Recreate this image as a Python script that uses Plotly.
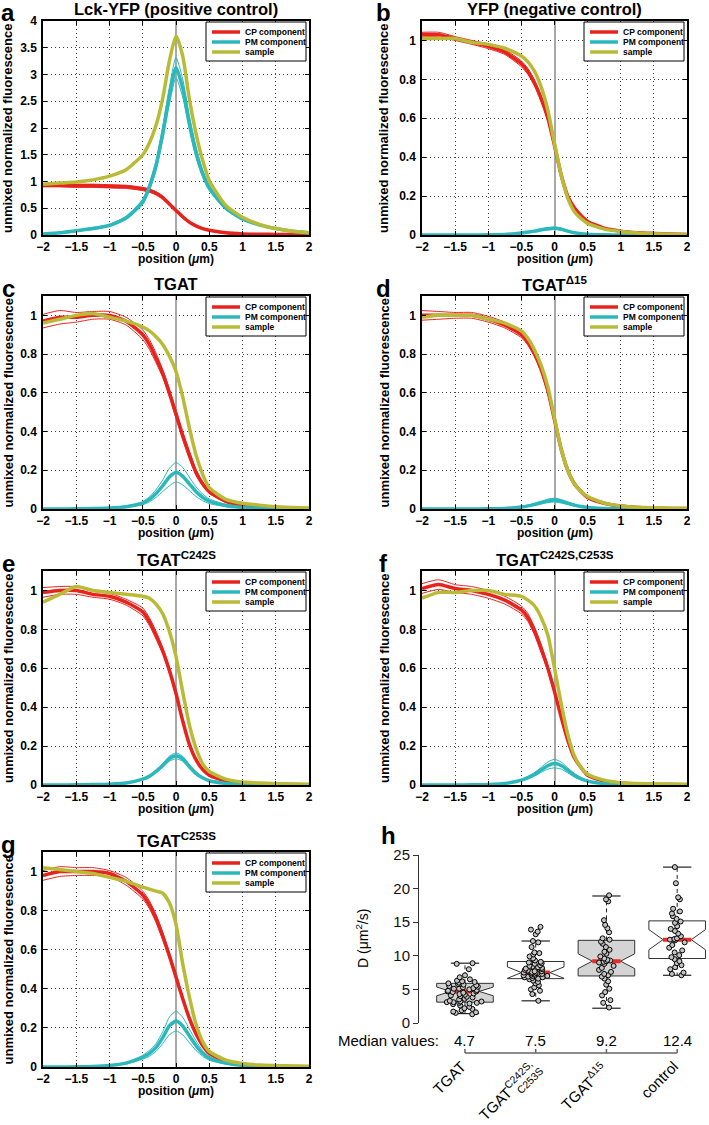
import plotly.graph_objects as go

# ---------------- data: line panels (position grid in µm) ----------------
X = [-2, -1.75, -1.5, -1.25, -1, -0.75, -0.5, -0.4, -0.3, -0.2, -0.1, 0,
     0.1, 0.2, 0.3, 0.4, 0.5, 0.75, 1, 1.25, 1.5, 1.75, 2]

# panel a: Lck-YFP
a_cp = [0.93, 0.93, 0.92, 0.92, 0.91, 0.90, 0.86, 0.83, 0.78, 0.70, 0.58, 0.46, 0.34, 0.24, 0.17, 0.12, 0.09, 0.04, 0.02, 0.015, 0.01, 0.008, 0.005]
a_cp_err = [0.03, 0.03, 0.03, 0.03, 0.03, 0.03, 0.03, 0.03, 0.03, 0.03, 0.025, 0.025, 0.02, 0.02, 0.015, 0.01, 0.01, 0.005, 0.003, 0.002, 0.002, 0.001, 0.001]
a_pm = [0.02, 0.04, 0.08, 0.12, 0.18, 0.32, 0.62, 0.9, 1.3, 1.9, 2.6, 3.13, 2.75, 2.1, 1.55, 1.15, 0.88, 0.5, 0.3, 0.19, 0.12, 0.07, 0.04]
a_pm_err = [0.005, 0.01, 0.01, 0.02, 0.02, 0.03, 0.05, 0.07, 0.09, 0.12, 0.16, 0.19, 0.17, 0.13, 0.1, 0.07, 0.05, 0.03, 0.02, 0.01, 0.01, 0.005, 0.005]
a_s = [0.95, 0.97, 0.99, 1.03, 1.1, 1.22, 1.5, 1.72, 2.05, 2.55, 3.25, 3.72, 3.35, 2.55, 1.9, 1.4, 1.02, 0.55, 0.33, 0.2, 0.12, 0.07, 0.04]

# panel b: YFP
b_cp = [1.03, 1.03, 1.01, 0.99, 0.97, 0.94, 0.88, 0.84, 0.78, 0.70, 0.60, 0.46, 0.31, 0.20, 0.14, 0.10, 0.07, 0.035, 0.02, 0.012, 0.008, 0.005, 0.003]
b_cp_err = [0.012, 0.012, 0.01, 0.01, 0.012, 0.012, 0.015, 0.015, 0.015, 0.015, 0.012, 0.01, 0.01, 0.008, 0.006, 0.005, 0.004, 0.002, 0.001, 0.001, 0.001, 0.001, 0.001]
b_pm = [0, 0, 0, 0, 0.001, 0.003, 0.01, 0.015, 0.02, 0.027, 0.032, 0.035, 0.03, 0.02, 0.012, 0.007, 0.004, 0.001, 0, 0, 0, 0, 0]
b_pm_err = [0, 0, 0, 0, 0, 0.001, 0.002, 0.003, 0.004, 0.005, 0.006, 0.006, 0.006, 0.004, 0.003, 0.002, 0.001, 0, 0, 0, 0, 0, 0]
b_s = [1.01, 1.01, 1.01, 0.99, 0.98, 0.96, 0.92, 0.89, 0.84, 0.76, 0.64, 0.47, 0.31, 0.19, 0.12, 0.085, 0.06, 0.03, 0.018, 0.01, 0.006, 0.004, 0.003]

# panel c: TGAT
c_cp = [0.97, 0.99, 0.99, 1.0, 1.0, 0.97, 0.9, 0.85, 0.78, 0.7, 0.6, 0.49, 0.38, 0.28, 0.19, 0.13, 0.09, 0.04, 0.02, 0.01, 0.005, 0.003, 0.001]
c_cp_err = [0.035, 0.035, 0.025, 0.02, 0.02, 0.02, 0.025, 0.025, 0.025, 0.02, 0.02, 0.02, 0.02, 0.02, 0.015, 0.01, 0.01, 0.005, 0.003, 0.002, 0.001, 0.001, 0.001]
c_pm = [0, 0, 0.001, 0.002, 0.005, 0.012, 0.03, 0.05, 0.08, 0.12, 0.165, 0.19, 0.17, 0.13, 0.09, 0.06, 0.04, 0.018, 0.008, 0.004, 0.002, 0.001, 0]
c_pm_err = [0, 0, 0, 0, 0.001, 0.003, 0.008, 0.013, 0.02, 0.03, 0.045, 0.05, 0.045, 0.035, 0.025, 0.017, 0.012, 0.006, 0.003, 0.001, 0, 0, 0]
c_s = [0.96, 0.98, 1.0, 1.01, 0.99, 0.97, 0.94, 0.92, 0.89, 0.85, 0.79, 0.71, 0.58, 0.42, 0.28, 0.18, 0.11, 0.05, 0.03, 0.02, 0.012, 0.008, 0.005]

# panel d: TGAT delta15
d_cp = [1.0, 1.0, 1.0, 1.0, 0.98, 0.95, 0.9, 0.86, 0.8, 0.72, 0.61, 0.46, 0.31, 0.2, 0.13, 0.09, 0.06, 0.03, 0.015, 0.008, 0.005, 0.003, 0.002]
d_cp_err = [0.025, 0.02, 0.015, 0.015, 0.015, 0.015, 0.015, 0.015, 0.015, 0.015, 0.015, 0.01, 0.01, 0.01, 0.01, 0.005, 0.005, 0.003, 0.002, 0.001, 0.001, 0.001, 0.001]
d_pm = [0, 0, 0, 0, 0.001, 0.003, 0.01, 0.016, 0.024, 0.033, 0.042, 0.046, 0.04, 0.03, 0.02, 0.013, 0.008, 0.003, 0.001, 0, 0, 0, 0]
d_pm_err = [0, 0, 0, 0, 0, 0.001, 0.002, 0.003, 0.005, 0.007, 0.009, 0.01, 0.009, 0.007, 0.005, 0.003, 0.002, 0.001, 0, 0, 0, 0, 0]
d_s = [0.99, 1.0, 1.0, 1.0, 0.98, 0.96, 0.92, 0.88, 0.82, 0.74, 0.63, 0.47, 0.31, 0.2, 0.13, 0.09, 0.065, 0.03, 0.016, 0.009, 0.006, 0.004, 0.003]

# panel e: TGAT C242S
e_cp = [0.99, 1.0, 1.0, 0.98, 0.97, 0.94, 0.89, 0.84, 0.77, 0.69, 0.59, 0.47, 0.33, 0.21, 0.13, 0.08, 0.05, 0.02, 0.01, 0.005, 0.003, 0.002, 0.001]
e_cp_err = [0.025, 0.02, 0.02, 0.015, 0.015, 0.015, 0.02, 0.02, 0.02, 0.015, 0.015, 0.015, 0.012, 0.01, 0.008, 0.006, 0.005, 0.002, 0.001, 0.001, 0.001, 0.001, 0.001]
e_pm = [0, 0, 0.001, 0.002, 0.004, 0.01, 0.03, 0.045, 0.07, 0.1, 0.135, 0.15, 0.135, 0.095, 0.06, 0.037, 0.022, 0.008, 0.003, 0.001, 0, 0, 0]
e_pm_err = [0, 0, 0, 0, 0, 0.001, 0.003, 0.005, 0.007, 0.01, 0.013, 0.015, 0.013, 0.01, 0.007, 0.004, 0.002, 0.001, 0, 0, 0, 0, 0]
e_s = [0.94, 0.98, 1.02, 1.0, 0.99, 0.98, 0.97, 0.96, 0.93, 0.88, 0.79, 0.66, 0.48, 0.31, 0.19, 0.11, 0.07, 0.03, 0.015, 0.01, 0.007, 0.005, 0.004]

# panel f: TGAT C242S,C253S
f_cp = [1.01, 1.03, 1.01, 1.0, 0.98, 0.95, 0.9, 0.86, 0.79, 0.7, 0.6, 0.48, 0.35, 0.23, 0.14, 0.09, 0.05, 0.02, 0.01, 0.005, 0.003, 0.002, 0.001]
f_cp_err = [0.025, 0.025, 0.02, 0.02, 0.02, 0.02, 0.02, 0.02, 0.02, 0.02, 0.015, 0.015, 0.012, 0.01, 0.008, 0.006, 0.004, 0.002, 0.001, 0.001, 0.001, 0.001, 0.001]
f_pm = [0, 0, 0, 0.001, 0.003, 0.008, 0.025, 0.038, 0.055, 0.078, 0.1, 0.11, 0.1, 0.075, 0.05, 0.032, 0.02, 0.007, 0.003, 0.001, 0, 0, 0]
f_pm_err = [0, 0, 0, 0, 0, 0.001, 0.004, 0.006, 0.009, 0.013, 0.018, 0.022, 0.018, 0.013, 0.009, 0.006, 0.003, 0.001, 0, 0, 0, 0, 0]
f_s = [0.96, 0.99, 0.99, 1.0, 1.0, 0.98, 0.97, 0.95, 0.92, 0.86, 0.77, 0.6, 0.42, 0.26, 0.15, 0.09, 0.055, 0.025, 0.012, 0.008, 0.006, 0.005, 0.004]

# panel g: TGAT C253S
g_cp = [0.98, 1.0, 1.0, 1.0, 0.99, 0.95, 0.88, 0.83, 0.76, 0.67, 0.57, 0.46, 0.35, 0.25, 0.17, 0.11, 0.07, 0.03, 0.012, 0.006, 0.003, 0.002, 0.001]
g_cp_err = [0.025, 0.025, 0.02, 0.02, 0.015, 0.02, 0.02, 0.02, 0.02, 0.02, 0.015, 0.015, 0.012, 0.01, 0.01, 0.008, 0.006, 0.003, 0.002, 0.001, 0.001, 0.001, 0.001]
g_pm = [0, 0, 0.001, 0.003, 0.008, 0.02, 0.05, 0.07, 0.1, 0.15, 0.21, 0.235, 0.21, 0.16, 0.11, 0.07, 0.045, 0.02, 0.008, 0.003, 0.001, 0, 0]
g_pm_err = [0, 0, 0, 0.001, 0.002, 0.004, 0.01, 0.015, 0.02, 0.03, 0.045, 0.05, 0.045, 0.035, 0.025, 0.015, 0.01, 0.005, 0.002, 0.001, 0, 0, 0]
g_s = [1.02, 1.01, 1.0, 0.99, 0.97, 0.95, 0.92, 0.91, 0.9, 0.89, 0.84, 0.73, 0.53, 0.36, 0.22, 0.13, 0.08, 0.035, 0.018, 0.01, 0.007, 0.005, 0.004]

titles = ["Lck-YFP (positive control)", "YFP (negative control)", "TGAT",
          "TGAT<sup>Δ15</sup>", "TGAT<sup>C242S</sup>", "TGAT<sup>C242S,C253S</sup>",
          "TGAT<sup>C253S</sup>"]
letters = ["a", "b", "c", "d", "e", "f", "g"]
series_names = ["CP component", "PM component", "sample"]

# ---------------- data: panel h (diffusion coefficients) ----------------
h_categories = ["TGAT", "TGAT<sup>C242S,</sup>", "TGAT<sup>Δ15</sup>", "control"]
h_category_sub = ["", "C253S", "", ""]
h_lower = [1.4, 3.3, 2.2, 7.1]
h_q1 = [3.1, 6.6, 7.0, 9.6]
h_median = [4.7, 7.5, 9.2, 12.4]
h_q3 = [5.9, 9.15, 12.3, 15.2]
h_upper = [8.9, 12.2, 18.9, 23.2]
h_notch = [0.65, 0.85, 1.1, 1.5]
h_points = [
    [1.3, 1.5, 1.6, 1.7, 1.9, 2.1, 2.2, 2.4, 2.6, 2.8, 2.9, 3.0, 3.0, 3.1, 3.1, 3.2, 3.2, 3.3, 3.5, 3.6,
     3.8, 3.9, 4.0, 4.1, 4.2, 4.3, 4.4, 4.5, 4.6, 4.7, 4.7, 4.8, 4.9, 5.0, 5.1, 5.1, 5.2, 5.3, 5.4, 5.5,
     5.6, 5.7, 5.8, 5.9, 6.0, 6.1, 6.2, 6.3, 6.5, 6.8, 7.1, 8.0, 8.8, 8.9],
    [3.3, 4.3, 4.8, 5.0, 5.3, 5.6, 5.9, 6.1, 6.3, 6.5, 6.6, 6.7, 6.8, 6.8, 6.9, 7.0, 7.0, 7.1, 7.2, 7.2,
     7.3, 7.4, 7.4, 7.5, 7.5, 7.6, 7.7, 7.7, 7.8, 7.9, 8.0, 8.1, 8.2, 8.3, 8.4, 8.5, 8.6, 8.8, 8.9, 9.0,
     9.1, 9.3, 9.6, 9.9, 10.2, 10.4, 10.5, 11.3, 12.0, 12.2, 13.2, 13.6, 13.9, 14.3],
    [2.3, 3.0, 3.4, 4.1, 4.6, 5.1, 5.7, 6.2, 6.6, 6.9, 7.1, 7.3, 7.6, 7.9, 8.2, 8.5, 8.8, 9.0, 9.1, 9.2,
     9.3, 9.4, 9.6, 9.9, 10.3, 10.6, 10.9, 11.3, 11.8, 12.1, 12.4, 12.6, 13.5, 14.1, 14.6, 15.3, 18.1, 18.4, 19.0],
    [7.1, 7.3, 7.5, 8.0, 8.3, 8.6, 8.9, 9.2, 9.5, 9.8, 10.1, 10.5, 10.8, 11.2, 11.6, 12.0, 12.3, 12.4, 12.5, 12.6,
     12.9, 13.3, 13.7, 14.0, 14.4, 14.9, 15.1, 15.5, 15.9, 16.3, 16.6, 17.0, 18.4, 18.7, 20.8, 23.2],
]

# ---------------- styling / layout ----------------
W, H = 709, 1125
FONT = "Liberation Sans, Arial, Helvetica, sans-serif"
RED = "#e8231e"
CYAN = "#2bb8bd"
OLIVE = "#b9bb36"
series_colors = [RED, CYAN, OLIVE]


def px(x):
    return x / W


def py(y):
    return 1 - y / H


cols = [(43, 309), (422, 687)]
rows = [(21, 235), (296, 509), (571, 785), (852, 1067)]
ylab_x = [8, 384]
letter_x = [8, 383]

panel_data = [
    (a_cp, a_cp_err, a_pm, a_pm_err, a_s),
    (b_cp, b_cp_err, b_pm, b_pm_err, b_s),
    (c_cp, c_cp_err, c_pm, c_pm_err, c_s),
    (d_cp, d_cp_err, d_pm, d_pm_err, d_s),
    (e_cp, e_cp_err, e_pm, e_pm_err, e_s),
    (f_cp, f_cp_err, f_pm, f_pm_err, f_s),
    (g_cp, g_cp_err, g_pm, g_pm_err, g_s),
]

fig = go.Figure()
layout = dict(width=W, height=H, margin=dict(l=0, r=0, t=0, b=0),
              paper_bgcolor="white", plot_bgcolor="white", template="none",
              font=dict(family=FONT, color="black"), showlegend=False)
annotations = []
shapes = []

tickfont = dict(family=FONT, size=12, color="black", weight="bold")

for i, (cp, cp_err, pm, pm_err, s) in enumerate(panel_data):
    k = i + 1
    r, c = divmod(i, 2)
    x0, x1 = cols[c]
    y0, y1 = rows[r]
    xa = "x" if k == 1 else f"x{k}"
    ya = "y" if k == 1 else f"y{k}"
    common = dict(x=X, xaxis=xa, yaxis=ya, mode="lines", hoverinfo="skip")
    spl = dict(shape="spline", smoothing=0.6)

    cp_hi = [v + e for v, e in zip(cp, cp_err)]
    cp_lo = [v - e for v, e in zip(cp, cp_err)]
    pm_hi = [v + e for v, e in zip(pm, pm_err)]
    pm_lo = [v - e for v, e in zip(pm, pm_err)]

    fig.add_trace(go.Scatter(y=cp_hi, line=dict(color=RED, width=1, **spl), **common))
    fig.add_trace(go.Scatter(y=cp_lo, line=dict(color=RED, width=1, **spl), **common))
    fig.add_trace(go.Scatter(y=pm_hi, line=dict(color=CYAN, width=1, **spl), **common))
    fig.add_trace(go.Scatter(y=pm_lo, line=dict(color=CYAN, width=1, **spl), **common))
    fig.add_trace(go.Scatter(y=cp, name=series_names[0], line=dict(color=RED, width=3.5, **spl), **common))
    fig.add_trace(go.Scatter(y=pm, name=series_names[1], line=dict(color=CYAN, width=3.5, **spl), **common))
    fig.add_trace(go.Scatter(y=s, name=series_names[2], line=dict(color=OLIVE, width=3.5, **spl), **common))

    if k == 1:
        yr, ydt = [0, 4], 0.5
    else:
        yr, ydt = [0, 1.1], 0.2

    axis_common = dict(showline=True, linecolor="black", linewidth=1.5, mirror="ticks",
                       ticks="inside", ticklen=4, tickwidth=1, tickcolor="black",
                       showgrid=True, gridcolor="#444", gridwidth=1, griddash="1px,3px",
                       tickfont=tickfont)
    layout["xaxis" if k == 1 else f"xaxis{k}"] = dict(
        domain=[px(x0), px(x1)], anchor=ya, range=[-2, 2], dtick=0.5, tick0=0,
        zeroline=True, zerolinecolor="#a8a8a8", zerolinewidth=2, ticklabelstandoff=0,
        **axis_common)
    layout["yaxis" if k == 1 else f"yaxis{k}"] = dict(
        domain=[py(y1), py(y0)], anchor=xa, range=yr, dtick=ydt, tick0=0,
        zeroline=False, ticklabelstandoff=2, **axis_common)

    # legend box (drawn manually to match the compact MATLAB legend)
    lx0, lx1 = x1 - 103, x1 - 3
    ly0, ly1 = y0 + 1, y0 + 40
    shapes.append(dict(type="rect", xref="paper", yref="paper", x0=px(lx0), x1=px(lx1),
                       y0=py(ly1), y1=py(ly0), line=dict(color="black", width=1),
                       fillcolor="white", layer="above"))
    for n in range(3):
        yy = y0 + 11 + 10 * n
        shapes.append(dict(type="line", xref="paper", yref="paper", x0=px(x1 - 97), x1=px(x1 - 69),
                           y0=py(yy), y1=py(yy), line=dict(color=series_colors[n], width=3.5),
                           layer="above"))
        annotations.append(dict(x=px(x1 - 66), y=py(yy), xref="paper", yref="paper",
                                text=series_names[n], showarrow=False, xanchor="left",
                                yanchor="middle",
                                font=dict(family=FONT, size=8.5, weight="bold")))

    cx = (x0 + x1) / 2
    annotations.append(dict(x=px(cx), y=py(y0 - 12), xref="paper", yref="paper", text=titles[i],
                            showarrow=False, font=dict(family=FONT, size=16.5, weight="bold"),
                            xanchor="center", yanchor="middle"))
    annotations.append(dict(x=px(letter_x[c]), y=py(y0 - 8), xref="paper", yref="paper",
                            text=letters[i], showarrow=False,
                            font=dict(family=FONT, size=24, weight="bold"),
                            xanchor="center", yanchor="middle"))
    annotations.append(dict(x=px(ylab_x[c]), y=py((y0 + y1) / 2), xref="paper", yref="paper",
                            text="unmixed normalized fluorescence", textangle=-90, showarrow=False,
                            font=dict(family=FONT, size=13, weight="bold"),
                            xanchor="center", yanchor="middle"))
    annotations.append(dict(x=px(cx), y=py(y1 + 24), xref="paper", yref="paper",
                            text="position (<i>μ</i>m)", showarrow=False,
                            font=dict(family=FONT, size=12, weight="bold"),
                            xanchor="center", yanchor="middle"))

# ---------------- panel h ----------------
hx0, hx1 = 419, 709
hy0, hy1 = 855, 1023
positions = [1, 2, 3, 4]
fills = ["#d4d4d4", "white", "#d4d4d4", "white"]
BW = 0.8
for j, p in enumerate(positions):
    fig.add_trace(go.Box(x=[p], q1=[h_q1[j]], median=[h_median[j]], q3=[h_q3[j]],
                         lowerfence=[h_q1[j]], upperfence=[h_q3[j]], notchspan=[h_notch[j]],
                         notched=True, notchwidth=0.25, width=BW, whiskerwidth=0,
                         fillcolor=fills[j], line=dict(color="#333", width=1),
                         boxpoints=False, hoverinfo="skip", xaxis="x8", yaxis="y8"))
    fig.add_trace(go.Box(x=[p], q1=[h_median[j]], median=[h_median[j]], q3=[h_median[j]],
                         lowerfence=[h_median[j]], upperfence=[h_median[j]],
                         width=BW * 0.5, whiskerwidth=0, fillcolor="#ee2a22",
                         line=dict(color="#ee2a22", width=4),
                         boxpoints=False, hoverinfo="skip", xaxis="x8", yaxis="y8"))
    fig.add_trace(go.Scatter(x=[p, p, None, p, p],
                             y=[h_q3[j], h_upper[j], None, h_q1[j], h_lower[j]],
                             mode="lines", line=dict(color="#222", width=1, dash="4px,3px"),
                             hoverinfo="skip", xaxis="x8", yaxis="y8"))
    fig.add_trace(go.Scatter(x=[p - 0.2, p + 0.2, None, p - 0.2, p + 0.2],
                             y=[h_upper[j], h_upper[j], None, h_lower[j], h_lower[j]],
                             mode="lines", line=dict(color="#222", width=1.2),
                             hoverinfo="skip", xaxis="x8", yaxis="y8"))

jit = [0.7, 0.5, 0.3, 0.3]
for j, p in enumerate(positions):
    fig.add_trace(go.Box(x=[p] * len(h_points[j]), y=h_points[j], width=BW,
                         boxpoints="all", jitter=jit[j], pointpos=0,
                         fillcolor="rgba(0,0,0,0)", line=dict(color="rgba(0,0,0,0)", width=0),
                         whiskerwidth=0,
                         marker=dict(size=5, color="#c4c4c4", line=dict(color="black", width=1)),
                         hoverinfo="skip", xaxis="x9", yaxis="y9"))

xr_h = [0.35, 4.45]
layout["xaxis8"] = dict(domain=[px(hx0), px(hx1)], anchor="y8", range=xr_h, visible=False)
layout["yaxis8"] = dict(domain=[py(hy1), py(hy0)], anchor="x8", range=[0, 25], dtick=5,
                        showline=True, linecolor="#333", linewidth=1, ticks="outside",
                        ticklen=5, tickcolor="#333", showgrid=False, zeroline=False,
                        tickfont=dict(family=FONT, size=15, color="#111"))
layout["xaxis9"] = dict(domain=[px(hx0), px(hx1)], anchor="y9", overlaying="x8",
                        range=xr_h, visible=False)
layout["yaxis9"] = dict(domain=[py(hy1), py(hy0)], anchor="x9", overlaying="y8",
                        range=[0, 25], visible=False)

annotations.append(dict(x=px(388), y=py(835), xref="paper", yref="paper", text="h",
                        showarrow=False, font=dict(family=FONT, size=24, weight="bold"),
                        xanchor="center", yanchor="middle"))
annotations.append(dict(x=px(362), y=py((hy0 + hy1) / 2), xref="paper", yref="paper",
                        text="D (μm<sup>2</sup>/s)", textangle=-90, showarrow=False,
                        font=dict(family=FONT, size=14), xanchor="center", yanchor="middle"))
annotations.append(dict(x=px(441), y=py(1040), xref="paper", yref="paper",
                        text="Median values:", showarrow=False,
                        font=dict(family=FONT, size=15), xanchor="right", yanchor="middle"))
for j, p in enumerate(positions):
    annotations.append(dict(x=p, xref="x8", y=py(1040), yref="paper",
                            text=f"{h_median[j]:.1f}", showarrow=False,
                            font=dict(family=FONT, size=15), xanchor="center", yanchor="middle"))
    annotations.append(dict(x=p + 0.1, xref="x8", y=py(1055), yref="paper",
                            text=h_categories[j], showarrow=False, textangle=-45,
                            font=dict(family=FONT, size=15), xanchor="right", yanchor="top"))
    if h_category_sub[j]:
        annotations.append(dict(x=p + 0.1, xref="x8", y=py(1055), yref="paper",
                                text=h_category_sub[j], showarrow=False, textangle=-45,
                                xshift=6, yshift=-7,
                                font=dict(family=FONT, size=10.5), xanchor="right", yanchor="top"))
    shapes.append(dict(type="line", xref="x8", yref="paper", x0=p, x1=p,
                       y0=py(1053), y1=py(1049), line=dict(color="#666", width=1.5)))
shapes.append(dict(type="line", xref="x8", yref="paper", x0=positions[0], x1=positions[-1],
                   y0=py(1053), y1=py(1053), line=dict(color="#666", width=1.5)))

layout["annotations"] = annotations
layout["shapes"] = shapes
fig.update_layout(**layout)
fig.write_html("out.html", config={"displayModeBar": False},
               post_script="document.body.style.margin='0px';")
